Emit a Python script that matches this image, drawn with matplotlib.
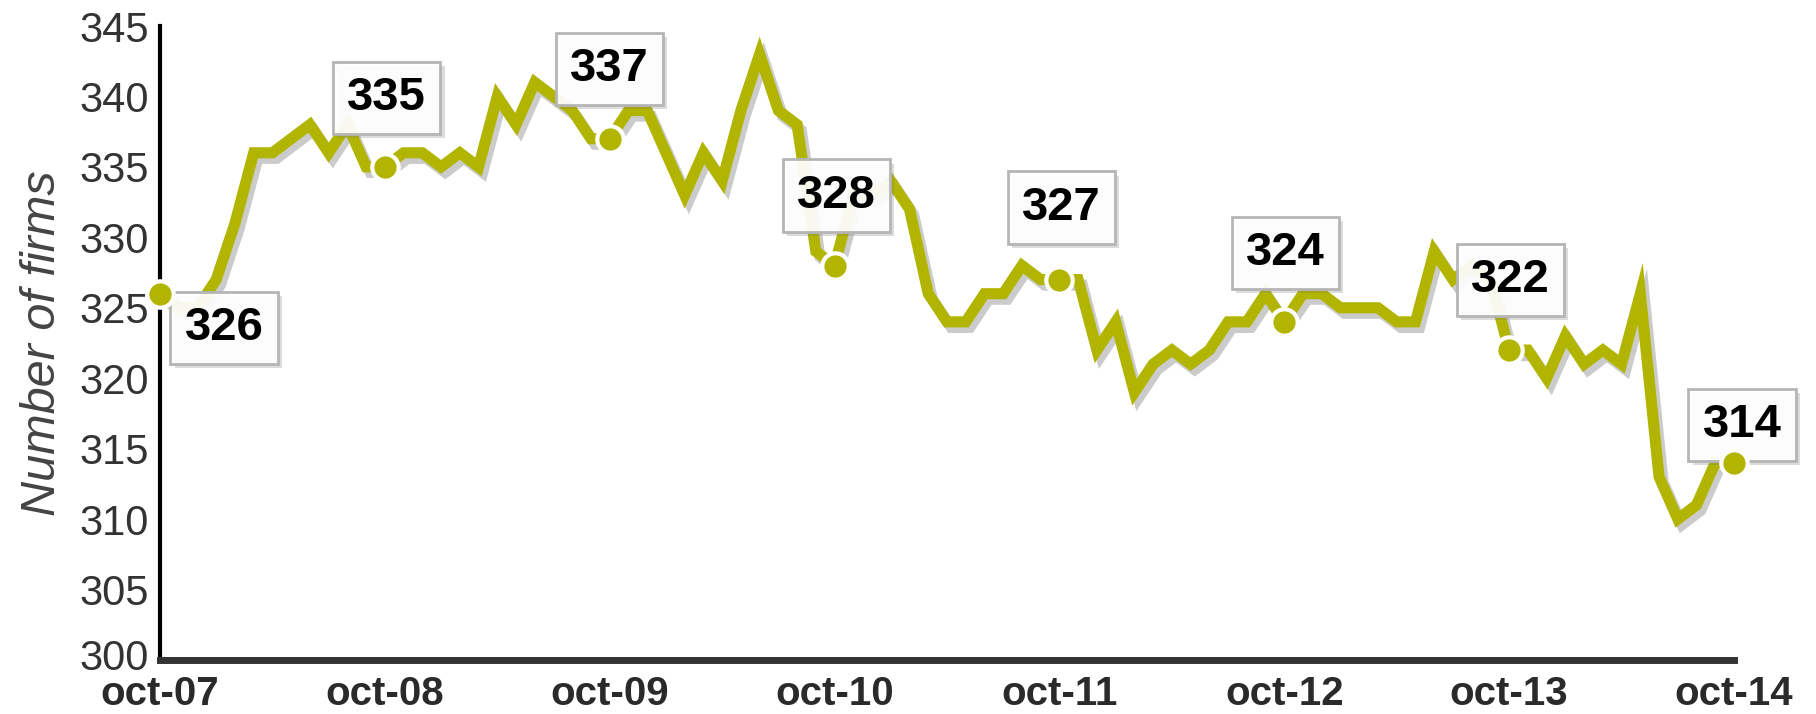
import matplotlib
matplotlib.use("Agg")
from matplotlib import pyplot as plt
from matplotlib import patheffects as pe
from matplotlib.transforms import ScaledTranslation

# monthly number of firms, oct-07 .. oct-14
firms = [
    326, 325, 325, 327, 331, 336, 336, 337, 338, 336, 338, 335,
    335, 336, 336, 335, 336, 335, 340, 338, 341, 340, 339, 337,
    337, 339, 339, 336, 333, 336, 334, 339, 343, 339, 338, 329,
    328, 333, 333, 334, 332, 326, 324, 324, 326, 326, 328, 327,
    327, 327, 322, 324, 319, 321, 322, 321, 322, 324, 324, 326,
    324, 326, 326, 325, 325, 325, 324, 324, 329, 327, 328, 327,
    322, 322, 320, 323, 321, 322, 321, 326, 313, 310, 311, 314,
    314,
]
tick_labels = ["oct-07", "oct-08", "oct-09", "oct-10", "oct-11", "oct-12", "oct-13", "oct-14"]
tick_months = [0, 12, 24, 36, 48, 60, 72, 84]

# label offsets (pixels) of the value boxes relative to their marker
label_offsets = [(64, -34), (2, 69), (0, 70), (2, 70), (2, 72), (1, 69), (1, 70), (8, 38)]

LINE = "#b2b500"

fig = plt.figure(figsize=(18.16, 7.14), dpi=100)
ax = fig.add_axes([160 / 1816, 54 / 714, 1574 / 1816, 634 / 714])

months = list(range(len(firms)))
ax.plot(months, firms, color=LINE, lw=8, solid_joinstyle="miter", zorder=2,
        path_effects=[pe.SimpleLineShadow(offset=(3, -4), shadow_color="#555555", alpha=0.3),
                      pe.Normal()])

for m, (dx, dy) in zip(tick_months, label_offsets):
    v = firms[m]
    ann = ax.annotate(str(v), xy=(m, v), xytext=(dx, dy), textcoords="offset pixels",
                      ha="center", va="center", fontsize=34, fontweight="bold",
                      family="Liberation Sans", color="black", zorder=4,
                      bbox=dict(boxstyle="square,pad=0.3", fc=(1, 1, 1, 0.93),
                                ec="#b5b5b5", lw=2))
    ann.get_bbox_patch().set_path_effects(
        [pe.SimplePatchShadow(offset=(3, -3), shadow_rgbFace="#777777", alpha=0.25), pe.Normal()])
    ax.plot(m, v, "o", ms=19, mfc=LINE, mec="white", mew=3, zorder=5, clip_on=False)

ax.set_xlim(0, 84)
ax.set_ylim(300, 345)
ax.set_yticks(range(300, 346, 5))
ax.set_xticks(tick_months)
ax.set_xticklabels(tick_labels, fontsize=29, fontweight="bold", color="#2a2a2a",
                   family="Liberation Sans")
ax.tick_params(axis="both", length=0)
ax.tick_params(axis="y", pad=8)
ax.tick_params(axis="x", pad=11)
for lab in ax.get_yticklabels():
    lab.set_fontsize(30)
    lab.set_color("#333333")
    lab.set_family("Liberation Sans")

# nudge the bottom tick label up a little so it clears "oct-07"
ylabs = ax.get_yticklabels()
ylabs[0].set_transform(ylabs[0].get_transform() + ScaledTranslation(0, 6 / 100, fig.dpi_scale_trans))

ax.set_ylabel("Number of firms", fontsize=35, style="italic", color="#444444",
              family="Liberation Sans", labelpad=10)

for side in ["top", "right"]:
    ax.spines[side].set_visible(False)
ax.spines["left"].set_linewidth(3)
ax.spines["left"].set_color("black")
ax.spines["bottom"].set_linewidth(5)
ax.spines["bottom"].set_color("#333333")

fig.savefig("out.png", dpi=100)
